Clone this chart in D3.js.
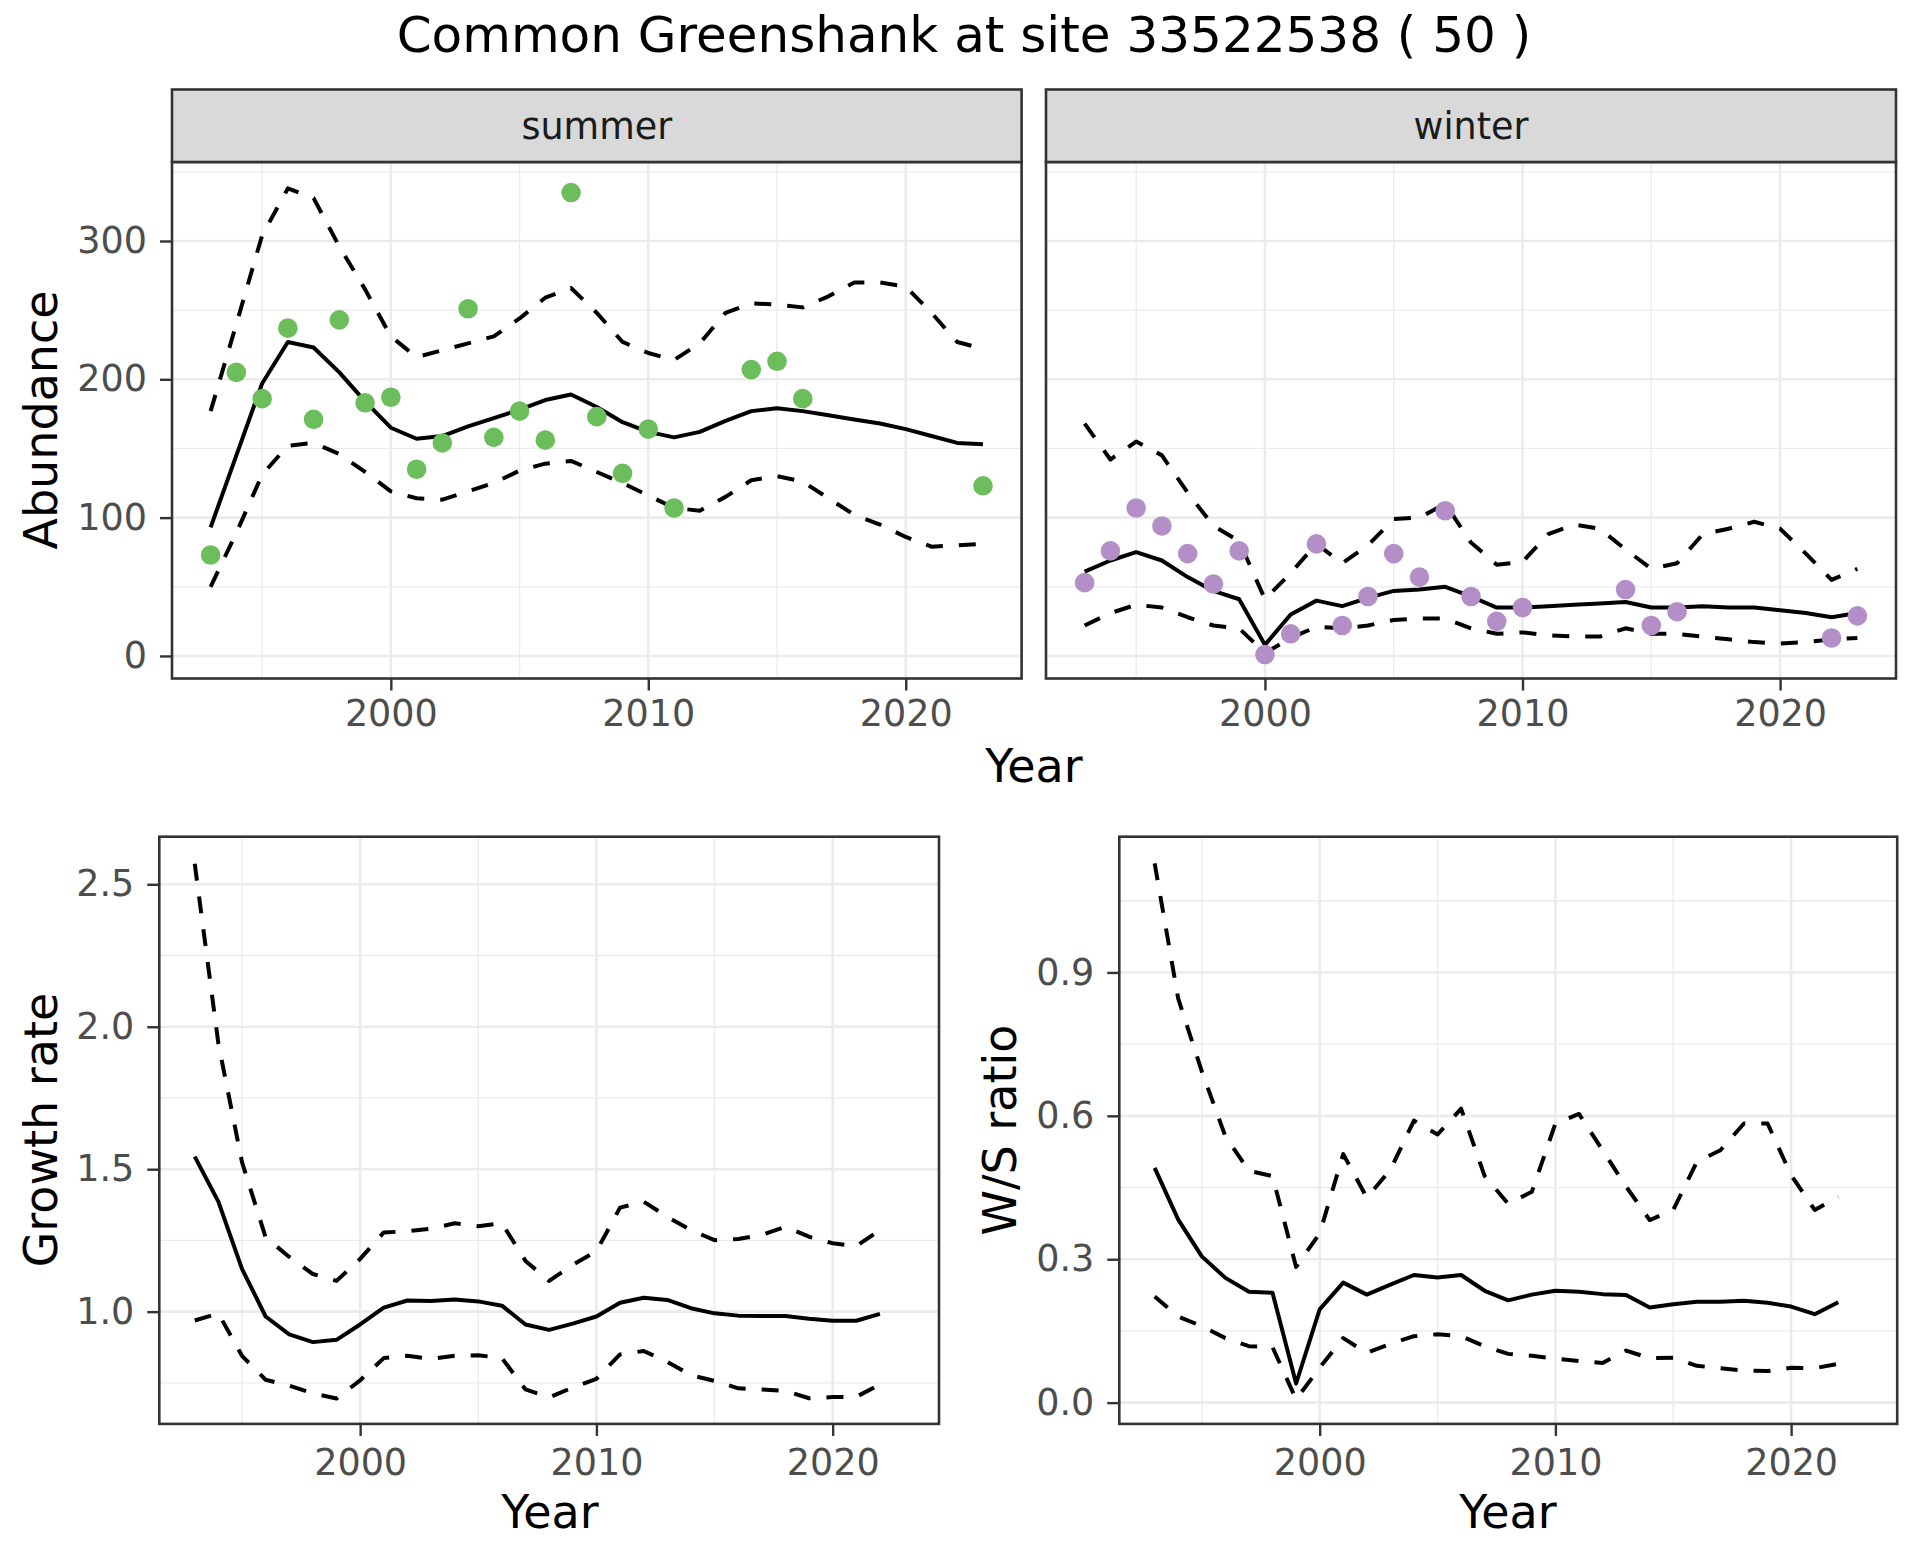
<!DOCTYPE html>
<html>
<head>
<meta charset="utf-8">
<script src="https://cdn.jsdelivr.net/npm/d3@7/dist/d3.min.js"></script>
<style>
  body { margin: 0; background: #fff; }
  svg text { font-family: "DejaVu Sans", sans-serif; }
</style>
</head>
<body>
<svg id="chart" width="1920" height="1560"></svg>
<script>
// years shown in the abundance panels, and in the growth / ratio panels
const years = d3.range(1993, 2024);
const yearsRate = d3.range(1993, 2023);

// summer counts (null = not counted) and fitted trend with 95% band
const summerCount = [73, 205, 186, 237, 171, 243, 183, 187, 135, 154, 251, 158, 177, 156, 335, 173, 132, 164, 107,
  null, null, 207, 213, 186, null, null, null, null, null, null, 123];
const summerFit = [93, 145, 197, 227, 223, 205, 184, 165, 157, 159, 166, 172, 178, 185, 189, 180, 169, 162, 158,
  162, 170, 177, 179, 177, 174, 171, 168, 164, 159, 154, 153];
const summerHi = [177, 240, 304, 338, 331, 296, 265, 231, 216, 221, 226, 231, 244, 259, 266, 248, 227, 219, 214,
  226, 248, 255, 254, 252, 260, 270, 270, 267, 248, 227, 222];
const summerLo = [50, 89, 131, 152, 154, 146, 133, 119, 114, 113, 119, 125, 134, 139, 141, 133, 125, 116, 107,
  105, 115, 127, 130, 126, 114, 102, 95, 86, 79, 80, 81];

// winter counts and trend
const winterCount = [53, 76, 107, 94, 74, 52, 76, 1, 16, 81, 22, 43, 74, 57, 105, 43, 25, 35, null,
  null, null, 48, 22, 32, null, null, null, null, null, 13, 29];
const winterFit = [61, 69, 75, 69, 57, 47, 41, 8, 30, 40, 36, 42, 47, 48, 50, 43, 35, 35, 36,
  37, 38, 39, 35, 35, 36, 35, 35, 33, 31, 28, 31];
const winterHi = [168, 142, 155, 145, 118, 94, 83, 41, 60, 81, 67, 80, 99, 100, 110, 82, 66, 68, 88,
  95, 92, 77, 63, 67, 88, 92, 97, 92, 74, 55, 63];
const winterLo = [22, 31, 37, 35, 28, 22, 20, 2, 13, 21, 20, 22, 26, 27, 27, 20, 16, 17, 15,
  14, 14, 20, 16, 16, 14, 12, 10, 9, 10, 12, 13];

// growth rate
const growthFit = [1.544, 1.386, 1.150, 0.983, 0.920, 0.893, 0.901, 0.955, 1.014, 1.039, 1.037, 1.043, 1.036, 1.021, 0.955,
  0.936, 0.958, 0.983, 1.031, 1.049, 1.041, 1.012, 0.994, 0.986, 0.985, 0.985, 0.975, 0.968, 0.968, 0.992];
const growthHi = [2.572, 1.941, 1.525, 1.261, 1.192, 1.132, 1.108, 1.185, 1.278, 1.282, 1.291, 1.310, 1.300, 1.310, 1.178,
  1.108, 1.164, 1.212, 1.365, 1.386, 1.333, 1.286, 1.251, 1.255, 1.269, 1.298, 1.263, 1.240, 1.230, 1.286];
const growthLo = [0.969, 0.994, 0.845, 0.761, 0.740, 0.713, 0.695, 0.759, 0.837, 0.845, 0.834, 0.845, 0.847, 0.837, 0.727,
  0.699, 0.734, 0.764, 0.850, 0.862, 0.824, 0.777, 0.757, 0.731, 0.727, 0.722, 0.696, 0.700, 0.701, 0.745];

// winter / summer ratio
const ratioFit = [0.491, 0.383, 0.306, 0.261, 0.232, 0.230, 0.040, 0.195, 0.251, 0.226, 0.247, 0.267, 0.262, 0.267, 0.234,
  0.214, 0.226, 0.234, 0.232, 0.227, 0.225, 0.199, 0.206, 0.211, 0.211, 0.213, 0.209, 0.201, 0.185, 0.210];
const ratioHi = [1.128, 0.845, 0.693, 0.557, 0.485, 0.474, 0.284, 0.354, 0.520, 0.429, 0.487, 0.590, 0.561, 0.615, 0.474,
  0.416, 0.441, 0.584, 0.604, 0.528, 0.452, 0.382, 0.403, 0.504, 0.528, 0.584, 0.584, 0.476, 0.403, 0.431];
const ratioLo = [0.222, 0.180, 0.160, 0.135, 0.118, 0.116, 0.007, 0.073, 0.135, 0.104, 0.123, 0.139, 0.143, 0.139, 0.118,
  0.102, 0.098, 0.092, 0.087, 0.083, 0.109, 0.093, 0.094, 0.077, 0.072, 0.067, 0.066, 0.073, 0.072, 0.081];

// tick labels
const xTicks = [2000, 2010, 2020];
const abundTicks = [0, 100, 200, 300];
const growthTicks = [1.0, 1.5, 2.0, 2.5];
const ratioTicks = [0.0, 0.3, 0.6, 0.9];

const svg = d3.select("#chart");
const xDomain = [1991.5, 2024.5];
const grid = "#EBEBEB";
const dark = "#333333";

function drawPanel(box, yDomain, yTicks, yFormat, showY, xPad) {
  const x = d3.scaleLinear().domain(xDomain).range([box.x0, box.x1]);
  const y = d3.scaleLinear().domain(yDomain).range([box.y1, box.y0]);
  const g = svg.append("g");

  g.append("rect")
    .attr("x", box.x0).attr("y", box.y0)
    .attr("width", box.x1 - box.x0).attr("height", box.y1 - box.y0)
    .attr("fill", "#fff");

  const step = yTicks[1] - yTicks[0];
  const yMinor = yTicks.map((v) => v - step / 2)
    .concat([yTicks[yTicks.length - 1] + step / 2])
    .filter((v) => v > yDomain[0] && v < yDomain[1]);
  const xMinor = xTicks.map((v) => v - 5).concat([xTicks[xTicks.length - 1] + 5])
    .filter((v) => v > xDomain[0] && v < xDomain[1]);

  g.selectAll("line.ymin").data(yMinor).enter().append("line")
    .attr("x1", box.x0).attr("x2", box.x1)
    .attr("y1", (d) => y(d)).attr("y2", (d) => y(d))
    .attr("stroke", grid).attr("stroke-width", 1.3);
  g.selectAll("line.xmin").data(xMinor).enter().append("line")
    .attr("y1", box.y0).attr("y2", box.y1)
    .attr("x1", (d) => x(d)).attr("x2", (d) => x(d))
    .attr("stroke", grid).attr("stroke-width", 1.3);
  g.selectAll("line.ymaj").data(yTicks).enter().append("line")
    .attr("x1", box.x0).attr("x2", box.x1)
    .attr("y1", (d) => y(d)).attr("y2", (d) => y(d))
    .attr("stroke", grid).attr("stroke-width", 2.6);
  g.selectAll("line.xmaj").data(xTicks).enter().append("line")
    .attr("y1", box.y0).attr("y2", box.y1)
    .attr("x1", (d) => x(d)).attr("x2", (d) => x(d))
    .attr("stroke", grid).attr("stroke-width", 2.6);

  const xAxis = g.append("g")
    .attr("transform", `translate(0,${box.y1})`)
    .call(d3.axisBottom(x).tickValues(xTicks).tickFormat(d3.format("d"))
      .tickSize(12).tickSizeOuter(0).tickPadding(xPad));
  styleAxis(xAxis);

  if (showY) {
    const yAxis = g.append("g")
      .attr("transform", `translate(${box.x0},0)`)
      .call(d3.axisLeft(y).tickValues(yTicks).tickFormat(yFormat)
        .tickSize(12).tickSizeOuter(0).tickPadding(13));
    styleAxis(yAxis);
  }
  return { x, y, g };
}

function styleAxis(sel) {
  sel.select(".domain").remove();
  sel.selectAll(".tick line").attr("stroke", dark).attr("stroke-width", 2.4);
  sel.selectAll(".tick text")
    .attr("fill", "#4D4D4D")
    .style("font-size", "36.5px")
    .style("font-family", "DejaVu Sans");
}

function drawBorder(box) {
  svg.append("rect")
    .attr("x", box.x0).attr("y", box.y0)
    .attr("width", box.x1 - box.x0).attr("height", box.y1 - box.y0)
    .attr("fill", "none").attr("stroke", dark).attr("stroke-width", 2.6);
}

function drawLines(p, xs, fit, lo, hi) {
  const line = d3.line()
    .defined((d) => d[1] != null)
    .x((d) => p.x(d[0]))
    .y((d) => p.y(d[1]));
  [[lo, true], [hi, true], [fit, false]].forEach(([vals, dashed]) => {
    p.g.append("path")
      .datum(xs.map((yr, i) => [yr, vals[i]]))
      .attr("d", line)
      .attr("fill", "none")
      .attr("stroke", "#000")
      .attr("stroke-width", 4)
      .attr("stroke-linejoin", "round")
      .attr("stroke-dasharray", dashed ? "17 16" : null);
  });
}

function drawPoints(p, counts, colour) {
  p.g.selectAll("circle.obs")
    .data(years.map((yr, i) => [yr, counts[i]]).filter((d) => d[1] != null))
    .enter()
    .append("circle")
    .attr("class", "obs")
    .attr("cx", (d) => p.x(d[0]))
    .attr("cy", (d) => p.y(d[1]))
    .attr("r", 9.8)
    .attr("fill", colour);
}

function drawStrip(box, label) {
  svg.append("rect")
    .attr("x", box.x0).attr("y", 89.5)
    .attr("width", box.x1 - box.x0).attr("height", box.y0 - 89.5)
    .attr("fill", "#D9D9D9").attr("stroke", dark).attr("stroke-width", 2.6);
  svg.append("text")
    .attr("x", (box.x0 + box.x1) / 2).attr("y", 138.5)
    .attr("text-anchor", "middle")
    .attr("fill", "#1A1A1A")
    .style("font-size", "36.5px")
    .text(label);
}

function axisTitle(x, y, label, rotate) {
  svg.append("text")
    .attr("transform", `translate(${x},${y})` + (rotate ? " rotate(-90)" : ""))
    .attr("text-anchor", "middle")
    .attr("fill", "#000")
    .style("font-size", "46px")
    .text(label);
}

function buildChart() {
  svg.append("text")
    .attr("x", 964).attr("y", 52)
    .attr("text-anchor", "middle")
    .attr("fill", "#000")
    .style("font-size", "50px")
    .text("Common Greenshank at site 33522538 ( 50 )");

  const summerBox = { x0: 172, x1: 1021.6, y0: 162, y1: 678.5 };
  const winterBox = { x0: 1046, x1: 1896, y0: 162, y1: 678.5 };
  const growthBox = { x0: 159.3, x1: 939, y0: 836.7, y1: 1423.9 };
  const ratioBox = { x0: 1119.3, x1: 1897.2, y0: 836.7, y1: 1423.9 };
  const abundDomain = [-16.3, 357.1];

  const summer = drawPanel(summerBox, abundDomain, abundTicks, d3.format("d"), true, 10);
  drawLines(summer, years, summerFit, summerLo, summerHi);
  drawPoints(summer, summerCount, "#6CBD5B");
  drawBorder(summerBox);
  drawStrip(summerBox, "summer");

  const winter = drawPanel(winterBox, abundDomain, abundTicks, d3.format("d"), false, 10);
  drawLines(winter, years, winterFit, winterLo, winterHi);
  drawPoints(winter, winterCount, "#B48FC7");
  drawBorder(winterBox);
  drawStrip(winterBox, "winter");

  const growth = drawPanel(growthBox, [0.606, 2.667], growthTicks, d3.format(".1f"), true, 13);
  drawLines(growth, yearsRate, growthFit, growthLo, growthHi);
  drawBorder(growthBox);

  const ratio = drawPanel(ratioBox, [-0.0445, 1.184], ratioTicks, d3.format(".1f"), true, 13);
  drawLines(ratio, yearsRate, ratioFit, ratioLo, ratioHi);
  drawBorder(ratioBox);

  axisTitle(1034, 782, "Year", false);
  axisTitle(550, 1528, "Year", false);
  axisTitle(1508, 1528, "Year", false);
  axisTitle(57, 420, "Abundance", true);
  axisTitle(57, 1130, "Growth rate", true);
  axisTitle(1016, 1130, "W/S ratio", true);
}

addEventListener("DOMContentLoaded", buildChart);
</script>
</body>
</html>
